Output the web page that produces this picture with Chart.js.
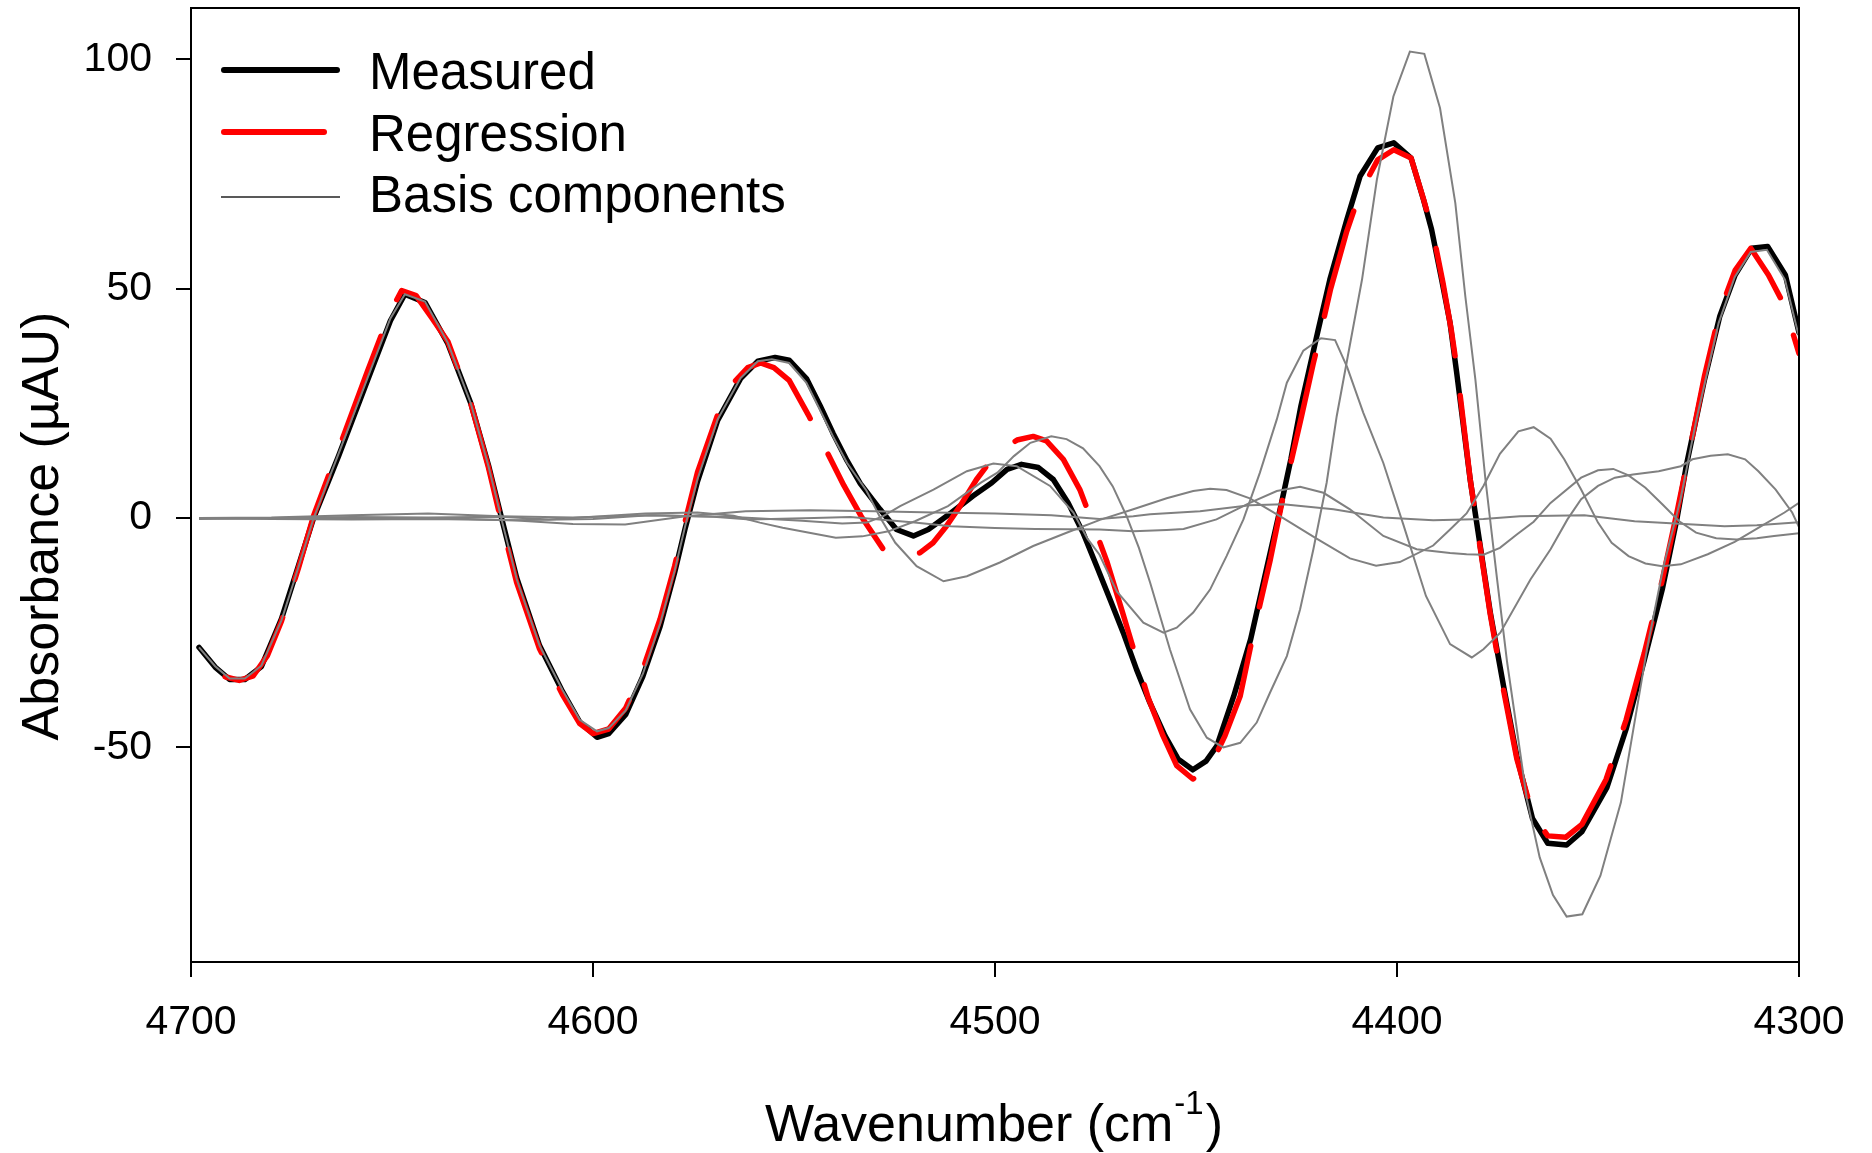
<!DOCTYPE html>
<html>
<head>
<meta charset="utf-8">
<title>Measured vs regression spectrum</title>
<script src="https://cdn.jsdelivr.net/npm/chart.js@4.4.1/dist/chart.umd.min.js"></script>
<style>
  html, body { margin: 0; padding: 0; background: #fff; }
  canvas { display: block; }
</style>
</head>
<body>
<canvas id="spectrumChart" width="1872" height="1153"></canvas>
<script>
// values: wavenumber (cm-1) / absorbance (µAU)
const measuredWn = [4698, 4694, 4690.4, 4686.6, 4682.5, 4677.5, 4673.3, 4669.5, 4663.3, 4656.1, 4650.4, 4646.8, 4641.8, 4636.1, 4630.4, 4626, 4622.6, 4619, 4613.3, 4607.6, 4603.3, 4599, 4596.1, 4591.9, 4587.6, 4583.3, 4579.7, 4577, 4574, 4569, 4563.3, 4559, 4554.7, 4551.2, 4546.9, 4543.5, 4540.3, 4536.8, 4533.5, 4528.6, 4524.5, 4520.3, 4516.6, 4510.8, 4505.5, 4500.8, 4497, 4493.4, 4489.2, 4485.5, 4481.8, 4478.1, 4474.7, 4471.4, 4468.1, 4464.8, 4461.5, 4457.7, 4454.4, 4450.8, 4447.5, 4444.8, 4440.6, 4436.4, 4432.3, 4428.9, 4426.4, 4423.9, 4419.6, 4416.7, 4412.5, 4409.2, 4404.8, 4400.8, 4396.5, 4393.4, 4391.4, 4388.9, 4386.8, 4385.2, 4381.8, 4379.3, 4376.8, 4373.5, 4370.2, 4366.3, 4362.5, 4357.8, 4354, 4347.8, 4343, 4338.5, 4334, 4330.4, 4327.9, 4323.5, 4319.7, 4315.9, 4311.8, 4307.8, 4303.4, 4300];
const measuredAbs = [-28.2, -32.5, -35.2, -35.2, -32.4, -22, -10.5, 0, 13.5, 30, 43, 48.8, 47, 38, 25, 11.5, -0.5, -13, -27.8, -37.8, -44.5, -47.8, -47, -42.9, -34.5, -23.6, -11.9, -2, 8, 21.3, 30.4, 34.2, 35, 34.4, 30.4, 24.5, 18.5, 12.5, 7.5, 1.9, -2.5, -3.9, -2.5, 1.2, 4.8, 7.7, 10.6, 11.7, 11, 8.4, 3.3, -3.2, -10.5, -17.7, -25, -33, -40.2, -47.5, -52.6, -54.9, -53, -49.7, -38.8, -26.4, -10.5, 2.6, 12.8, 24.4, 41, 52, 65, 74.5, 80.7, 81.8, 78.5, 69.4, 62.9, 52, 42.5, 32, 8.4, -6.1, -20.6, -36.6, -51.9, -65.5, -70.9, -71.3, -68.4, -58.8, -46, -31, -15.5, -0.3, 12, 30.2, 44, 53, 58.8, 59.2, 53, 40.4];

const regressionWn = [4691.5, 4688, 4684.5, 4681, 4677.5, 4673.3, 4669.5, 4663.3, 4656.1, 4650.4, 4647.6, 4644, 4640, 4636.1, 4630.4, 4626, 4622.6, 4619, 4613.3, 4607.6, 4603.3, 4600, 4596.1, 4591.9, 4587.6, 4583.3, 4579.7, 4577, 4574, 4569, 4565, 4561.5, 4558.3, 4555, 4551.2, 4546.2, 4541.9, 4537.6, 4533.3, 4527.5, 4523, 4518.7, 4515.4, 4512.1, 4508.7, 4504.6, 4499.6, 4494.5, 4490.5, 4487.2, 4483, 4478.9, 4475.1, 4472.2, 4468.3, 4464.4, 4461.9, 4458.2, 4454.8, 4450.8, 4447, 4442.8, 4439, 4435.7, 4431.5, 4428.3, 4426.6, 4423.8, 4420.8, 4419.5, 4416.5, 4412.5, 4409.2, 4404.8, 4400.8, 4396.5, 4393.4, 4391, 4388.5, 4386.5, 4385, 4381.8, 4379.3, 4376.8, 4373.5, 4370.2, 4366.3, 4362.5, 4358, 4354, 4348, 4343, 4338.5, 4334, 4330.4, 4327.5, 4323.5, 4319.7, 4315.9, 4312, 4307.6, 4303.6, 4300];
const regressionAbs = [-34.6, -35.4, -34.4, -30, -22.5, -11, 0.5, 15, 32, 45, 49.6, 48.5, 43.5, 38.5, 25, 11, -1.5, -14, -28.5, -38.5, -44.8, -47, -46, -41.5, -33, -22, -10.5, -0.5, 10, 22.5, 29.5, 32.8, 33.8, 32.8, 30, 22.1, 14.6, 7.1, 0.4, -7.2, -8.6, -7.6, -5.4, -1.8, 2.6, 8.4, 14.2, 17, 17.8, 16.8, 12.8, 6.2, -2.5, -9.4, -20.5, -31.9, -39.2, -47.5, -54, -56.9, -55.1, -47.5, -38.8, -25, -9, 4.8, 11.3, 22, 33.8, 38.5, 50, 62.5, 70.9, 78.1, 80.3, 78.5, 69.5, 62, 51, 41, 32, 8.5, -6.5, -21, -37.5, -52.5, -64.5, -69.3, -69.6, -66.8, -57, -44, -29.5, -13.5, 1, 13.5, 31, 45, 54, 58.8, 53, 46.3, 35.9];

const basis1Wn = [4698, 4694, 4690.4, 4686.6, 4682.5, 4677.5, 4673.3, 4669.5, 4663.3, 4656.1, 4650.4, 4646.8, 4641.8, 4636.1, 4630.4, 4626, 4622.6, 4619, 4613.3, 4607.6, 4603.3, 4599, 4596.1, 4591.9, 4587.6, 4583.3, 4579.7, 4577, 4574, 4569, 4563.3, 4559, 4555.5, 4551.2, 4546.9, 4543.5, 4540.3, 4536.8, 4532, 4528.5, 4524.8, 4519.5, 4512.8, 4507, 4498.8, 4490.5, 4482.2, 4473.9, 4465.6, 4457.3, 4450.7, 4446.5, 4442.4, 4436.6, 4428.3, 4420, 4411.7, 4405.2, 4399.3, 4391, 4386.8, 4382.7, 4378.5, 4374.4, 4369.8, 4366, 4361.8, 4358.4, 4354.2, 4350, 4346.6, 4342.4, 4338.2, 4334, 4329.4, 4322.7, 4316, 4309.5, 4303.6, 4300];
const basis1Abs = [-28.2, -32.3, -35, -35, -32.2, -22.3, -10.8, 0, 14, 30.5, 43.5, 48.8, 47.2, 38.2, 25, 11.3, -0.8, -13.3, -27.8, -37.5, -44, -46.5, -45.8, -42, -34, -23, -11.5, -1.5, 8.5, 21.5, 30.5, 34.2, 34.6, 33.8, 29.5, 23.5, 17.8, 12, 6, 0, -5.4, -10.5, -13.8, -12.7, -9.7, -6.1, -3.2, -0.4, 1.9, 4.3, 5.9, 6.4, 6.1, 4.3, 0, -4.5, -8.8, -10.4, -9.6, -6, -2.5, 1, 7, 14, 18.9, 19.8, 17.3, 12.8, 6.2, -1, -5.4, -8.3, -9.9, -10.5, -10.1, -7.9, -5.2, -1.8, 1.2, 3.3];

const basis2Wn = [4698, 4680, 4660, 4641, 4623, 4611, 4598, 4587, 4574, 4565, 4558.5, 4552.8, 4546.2, 4539.6, 4533, 4526.5, 4519.9, 4511.7, 4503.5, 4499.4, 4495.3, 4491.2, 4486, 4482.2, 4478.1, 4474, 4470.7, 4467.3, 4464.2, 4461.4, 4456.5, 4451.5, 4447.3, 4443.2, 4439, 4434.9, 4431.6, 4427.4, 4424.1, 4420.8, 4417.5, 4415, 4412.4, 4408.7, 4405, 4400.9, 4396.8, 4393.2, 4389.3, 4385.5, 4383, 4380.5, 4378, 4375.1, 4372.6, 4370.2, 4367.7, 4364.5, 4361.2, 4357.8, 4353.9, 4349.4, 4344.3, 4337.7, 4333.7, 4329.5, 4325.4, 4320, 4316, 4312, 4308, 4303.5, 4300];
const basis2Abs = [-0.2, 0, 0.2, 0.1, 0.3, -0.3, 0.4, 1, 1.2, 0.5, -1, -2.1, -3.2, -4.3, -4, -2.9, -0.7, 2.6, 7.7, 9.9, 13.5, 16.4, 17.8, 17.2, 15.2, 11.3, 6.9, 0.5, -6.5, -14.1, -28.6, -41.7, -47.9, -50, -49, -44.6, -38.1, -30.1, -19.9, -6.8, 7.7, 22.2, 34.5, 52, 73.8, 91.9, 101.7, 101.2, 89.4, 68.7, 48.3, 30.2, 8.4, -13.4, -31.5, -46, -61.3, -74, -82.2, -86.9, -86.4, -78, -62, -28, -10.5, 4, 22, 42.5, 52.5, 58, 58.5, 52, 39.5];

const basis3Wn = [4698, 4680, 4660, 4641, 4623, 4605, 4585, 4565, 4548, 4538, 4531.9, 4527.8, 4523.6, 4515.3, 4507, 4500.4, 4494.6, 4486.3, 4480.5, 4477, 4474, 4469.7, 4463.1, 4458.1, 4454.8, 4450.7, 4446.5, 4442.4, 4438.2, 4434.1, 4429.9, 4427.4, 4423.3, 4418.9, 4415.4, 4412.4, 4408.4, 4403.4, 4398.4, 4392.8, 4386.8, 4381.4, 4378.5, 4374.3, 4366.8, 4361.8, 4357.6, 4354.2, 4350, 4345.8, 4341.3, 4334.9, 4329.4, 4326.5, 4322, 4317.7, 4313.4, 4310.1, 4305.8, 4301.7, 4300];
const basis3Abs = [0, 0.1, 0.6, 1, 0.4, 0.1, 0.6, 0.2, -0.6, -1.2, -1, 0.4, 2.6, 6.2, 10.2, 11.9, 11.3, 7, 1.2, -4.5, -8, -16, -22.8, -25, -23.9, -20.6, -15.6, -8.3, -0.3, 9.9, 21.5, 29.5, 36.5, 39.2, 38.8, 32.9, 23, 12, -1.5, -17, -27.5, -30.4, -28.6, -25, -13.4, -6.8, -0.3, 4.1, 7, 8.8, 9.5, 10.2, 11.3, 12.8, 13.6, 13.9, 12.8, 10.2, 6.2, 1.2, -2];

const basis4Wn = [4698, 4680, 4660, 4640, 4620, 4600, 4586, 4570, 4561, 4545, 4536, 4520, 4511, 4500, 4490, 4474, 4465.6, 4457.3, 4453.1, 4444.9, 4436.6, 4429.9, 4424.1, 4418.3, 4411.7, 4403.4, 4395.1, 4386.8, 4382.7, 4378.5, 4374.4, 4370.2, 4366, 4361.8, 4354.2, 4350, 4346.2, 4342.4, 4338.2, 4334, 4329.8, 4325.6, 4320.6, 4315.6, 4310.5, 4306.2, 4300];
const basis4Abs = [0, -0.2, -0.3, -0.2, -0.5, -0.2, 0.6, 0.3, -0.3, 0, 0.2, -1, -1.8, -2.2, -2.4, -2.5, -2.9, -2.6, -2.4, -0.3, 3.3, 5.9, 6.8, 5.5, 1.9, -3.9, -6.8, -7.6, -7.9, -8, -6.5, -3.6, -0.8, 3.3, 8.8, 10.4, 10.7, 9.3, 6.6, 3, -0.7, -3.2, -4.4, -4.7, -4.4, -3.9, -3.3];

const basis5Wn = [4698, 4670, 4640, 4620, 4605, 4592, 4577, 4562, 4546, 4530, 4515, 4500, 4486, 4474, 4465.6, 4461.4, 4449, 4436.6, 4428.3, 4415.8, 4403.4, 4391, 4378.5, 4369.4, 4353.4, 4340.9, 4318.5, 4310.5, 4300];
const basis5Abs = [-0.1, -0.1, 0, -0.5, -1.3, -1.4, 0.4, 1.5, 1.7, 1.5, 1.2, 1, 0.6, -0.2, 0.4, 0.8, 1.5, 2.8, 3, 1.9, 0.1, -0.5, -0.2, 0.4, 0.6, -0.7, -1.8, -1.6, -0.9];

const xTicks = [4700, 4600, 4500, 4400, 4300];
const yTicks = [-50, 0, 50, 100];
const legendLabels = ["Measured", "Regression", "Basis components"];

const FONT = '"Liberation Sans", Arial, Helvetica, sans-serif';

function toPoints(wn, abs) {
    return wn.map((x, i) => ({ x: x, y: abs[i] }));
}

var basisSets = [
    [basis1Wn, basis1Abs],
    [basis2Wn, basis2Abs],
    [basis3Wn, basis3Abs],
    [basis4Wn, basis4Abs],
    [basis5Wn, basis5Abs]
];

var datasets = [];
for (var i = 0; i < basisSets.length; i++) {
    datasets.push({
        label: "Basis " + (i + 1),
        data: toPoints(basisSets[i][0], basisSets[i][1]),
        borderColor: "#808080",
        borderWidth: 2,
        pointRadius: 0,
        tension: 0,
        order: 1
    });
}

datasets.push({
    label: legendLabels[1],
    data: toPoints(regressionWn, regressionAbs),
    borderColor: "#ff0000",
    borderWidth: 5.5,
    borderDash: [109, 40],
    borderDashOffset: 14,
    borderCapStyle: "round",
    borderJoinStyle: "round",
    pointRadius: 0,
    tension: 0,
    order: 2
});

datasets.push({
    label: legendLabels[0],
    data: toPoints(measuredWn, measuredAbs),
    borderColor: "#000000",
    borderWidth: 5.5,
    borderCapStyle: "round",
    borderJoinStyle: "round",
    pointRadius: 0,
    tension: 0,
    order: 3
});

// frame, legend and axis titles
const decorPlugin = {
    id: "decor",
    afterDraw(chart) {
        const ctx = chart.ctx;
        const area = chart.chartArea;
        ctx.save();

        // top and right edges of the box
        ctx.strokeStyle = "#000";
        ctx.lineWidth = 2;
        ctx.beginPath();
        ctx.moveTo(area.left, area.top);
        ctx.lineTo(area.right, area.top);
        ctx.lineTo(area.right, area.bottom);
        ctx.stroke();

        // legend
        ctx.lineCap = "round";
        ctx.strokeStyle = "#000";
        ctx.lineWidth = 6;
        ctx.beginPath();
        ctx.moveTo(224, 70);
        ctx.lineTo(337, 70);
        ctx.stroke();

        ctx.strokeStyle = "#ff0000";
        ctx.beginPath();
        ctx.moveTo(224, 132);
        ctx.lineTo(324, 132);
        ctx.stroke();

        ctx.lineCap = "butt";
        ctx.strokeStyle = "#222";
        ctx.lineWidth = 1.6;
        ctx.beginPath();
        ctx.moveTo(221, 197);
        ctx.lineTo(340, 197);
        ctx.stroke();

        ctx.fillStyle = "#000";
        ctx.font = "51px " + FONT;
        ctx.textAlign = "left";
        ctx.textBaseline = "alphabetic";
        ctx.fillText(legendLabels[0], 369, 89);
        ctx.fillText(legendLabels[1], 369, 150.5);
        ctx.fillText(legendLabels[2], 369, 212);

        // x axis title with superscript
        const mainFont = "52px " + FONT;
        const supFont = "33px " + FONT;
        const part1 = "Wavenumber (cm";
        const sup = "-1";
        const part3 = ")";
        ctx.font = mainFont;
        const w1 = ctx.measureText(part1).width;
        const w3 = ctx.measureText(part3).width;
        ctx.font = supFont;
        const w2 = ctx.measureText(sup).width + 3;
        const total = w1 + w2 + w3;
        const cx = (area.left + area.right) / 2 - 1;
        let tx = cx - total / 2;
        const base = 1141;
        ctx.font = mainFont;
        ctx.fillText(part1, tx, base);
        tx += w1;
        ctx.font = supFont;
        ctx.fillText(sup, tx + 1, base - 27);
        tx += w2;
        ctx.font = mainFont;
        ctx.fillText(part3, tx, base);

        // y axis title
        ctx.translate(57.5, 526);
        ctx.rotate(-Math.PI / 2);
        ctx.textAlign = "center";
        ctx.font = mainFont;
        ctx.fillText("Absorbance (\u00B5AU)", 0, 0);

        ctx.restore();
    }
};

var spectrumChart = new Chart(document.getElementById("spectrumChart"), {
    type: "line",
    data: { datasets: datasets },
    options: {
        responsive: false,
        animation: false,
        devicePixelRatio: 1,
        layout: { padding: { left: 0, top: 8, right: 73, bottom: 0 } },
        plugins: {
            legend: { display: false },
            tooltip: { enabled: false }
        },
        scales: {
            x: {
                type: "linear",
                reverse: true,
                min: 4300,
                max: 4700,
                afterBuildTicks: (scale) => { scale.ticks = xTicks.map(v => ({ value: v })); },
                afterFit: (scale) => { scale.height = 191; scale.paddingLeft = 0; scale.paddingRight = 0; },
                grid: { drawOnChartArea: false, drawTicks: true, tickLength: 15, color: "#000", lineWidth: 2 },
                border: { display: true, color: "#000", width: 2 },
                ticks: {
                    color: "#000",
                    font: { family: FONT, size: 41 },
                    padding: 21,
                    maxRotation: 0,
                    autoSkip: false,
                    callback: (v) => String(v)
                }
            },
            y: {
                type: "linear",
                min: -96.8,
                max: 111.2,
                afterBuildTicks: (scale) => { scale.ticks = yTicks.map(v => ({ value: v })); },
                afterFit: (scale) => { scale.width = 191; scale.paddingTop = 0; scale.paddingBottom = 0; },
                grid: { drawOnChartArea: false, drawTicks: true, tickLength: 15, color: "#000", lineWidth: 2 },
                border: { display: true, color: "#000", width: 2 },
                ticks: {
                    color: "#000",
                    font: { family: FONT, size: 41 },
                    padding: 24,
                    autoSkip: false,
                    callback: (v) => String(v)
                }
            }
        }
    },
    plugins: [decorPlugin]
});
</script>
</body>
</html>
